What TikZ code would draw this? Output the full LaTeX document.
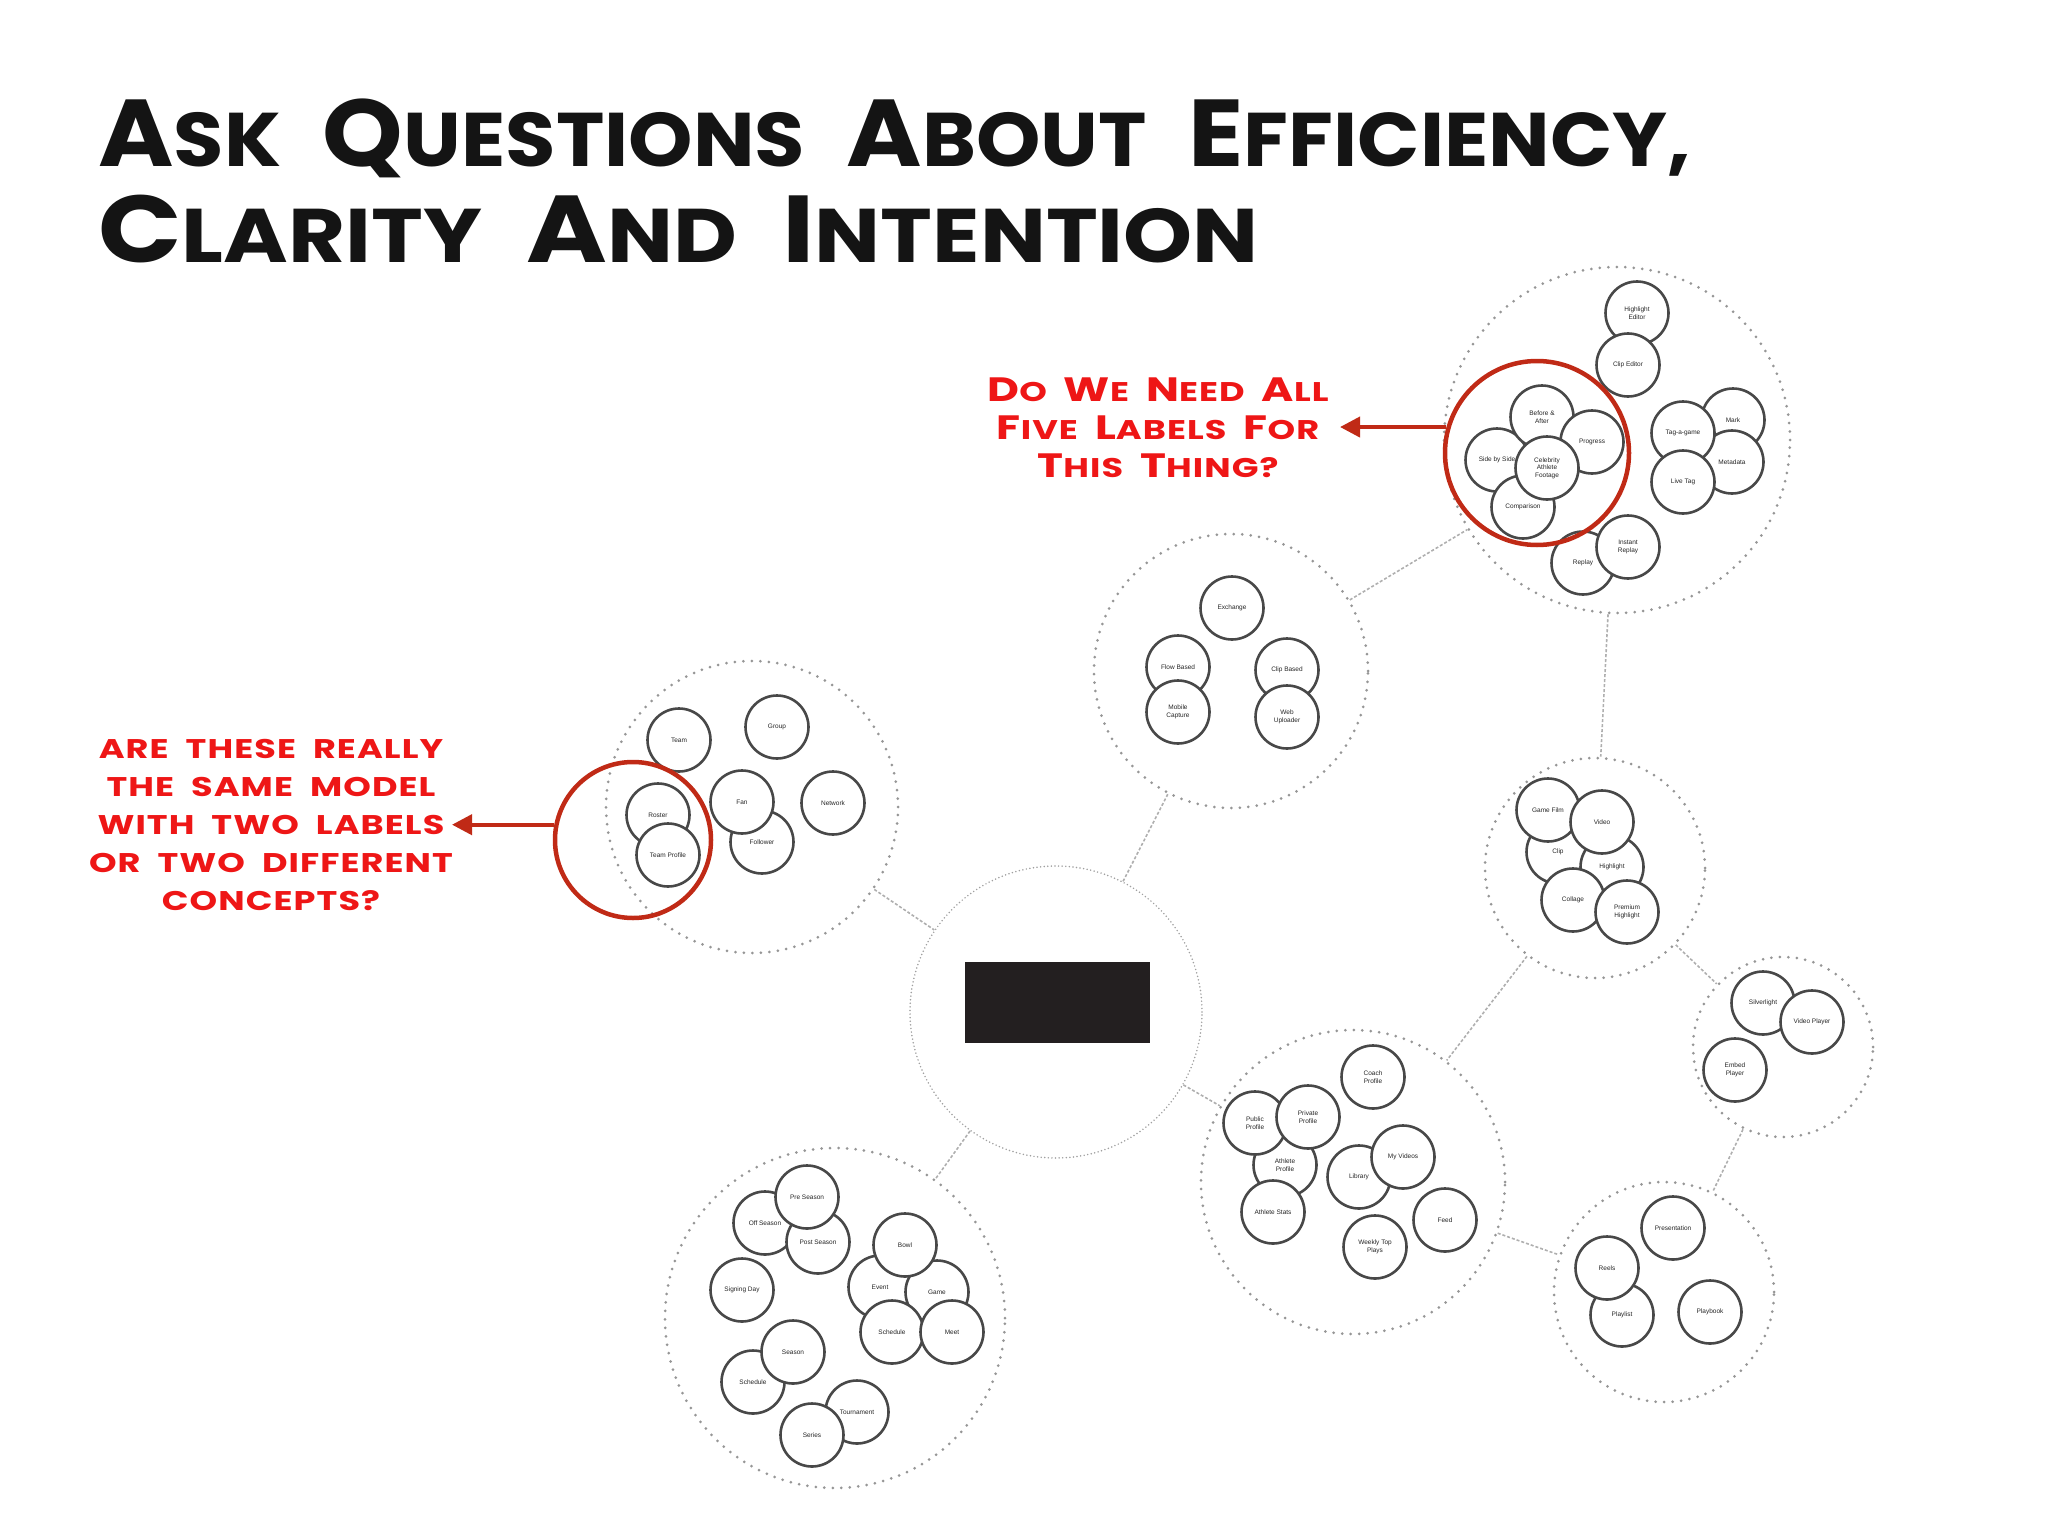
\documentclass[tikz,border=0pt]{standalone}
\usepackage{fontspec}
\setmainfont{Liberation Sans}
\newfontfamily\markerfont{Poppins}[FakeStretch=1.3,LetterSpace=4,WordSpace=2]
\newfontfamily\headfont{Poppins}[FakeStretch=1.1,WordSpace=2.4]
\usetikzlibrary{arrows.meta}

\definecolor{inkred}{RGB}{238,22,22}
\definecolor{ringred}{RGB}{192,42,22}
\definecolor{dotgray}{RGB}{150,150,150}
\definecolor{edgegray}{RGB}{175,175,175}
\definecolor{blobgray}{RGB}{72,72,72}
\definecolor{boxblack}{RGB}{35,31,32}

\newcommand\firstlet[1]{\scalebox{1.25}{#1}}

\begin{document}
\begin{tikzpicture}[x=1pt,y=-1pt,
  blob/.style={circle,draw=blobgray,line width=2.6pt,fill=white,minimum size=63pt,
    inner sep=0pt,align=center,font=\fontsize{6.5}{7.5}\selectfont,text=black!85},
  cluster/.style={circle,draw=dotgray,line width=3pt,line cap=round,
    dash pattern=on 0pt off 8.5pt,inner sep=0pt},
  hub/.style={circle,draw=dotgray!90,line width=1.7pt,line cap=round,
    dash pattern=on 0pt off 3.6pt,inner sep=0pt},
  link/.style={draw=edgegray,line width=1.6pt,dash pattern=on 3pt off 2pt},
  ring/.style={circle,draw=ringred,line width=4.5pt,inner sep=0pt},
  pointer/.style={draw=ringred,line width=4pt,-{Triangle[length=20pt,width=20pt]}},
  note/.style={text=inkred,align=center,inner sep=0pt,
    font=\markerfont\bfseries\fontsize{27}{38}\selectfont},
  headline/.style={text=black!92,inner sep=0pt,
    font=\headfont\bfseries\fontsize{76}{95}\selectfont}]
  \useasboundingbox (0,0) rectangle (2048,1536);

  % title
  \node[headline,anchor=base west] (head1) at (98,167)
    {\scalebox{0.98}[1]{\firstlet{A}SK \firstlet{Q}UESTIONS \firstlet{A}BOUT \firstlet{E}FFICIENCY,}};
  \node[headline,anchor=base west] (head2) at (98,262)
    {\scalebox{1.05}[1]{\firstlet{C}LARITY \firstlet{A}ND \firstlet{I}NTENTION}};

  % model groups
  \node[cluster,minimum size=346pt] (tr) at (1617,440)  {};
  \node[cluster,minimum size=274pt] (mt) at (1231,671)  {};
  \node[cluster,minimum size=292pt] (lt) at (752,807)   {};
  \node[hub,minimum size=292pt]     (ct) at (1056,1012) {};
  \node[cluster,minimum size=220pt] (rm) at (1595,868)  {};
  \node[cluster,minimum size=180pt] (fr) at (1783,1047) {};
  \node[cluster,minimum size=304pt] (bm) at (1353,1182) {};
  \node[cluster,minimum size=220pt] (br) at (1664,1292) {};
  \node[cluster,minimum size=340pt] (bl) at (835,1318)  {};
  \node[fill=boxblack,minimum width=185pt,minimum height=81pt,inner sep=0pt] (logo) at (1057,1002) {};

  \path[link] (lt) edge (ct)
              (ct) edge (mt)
              (mt) edge (tr)
              (tr) edge (rm)
              (rm) edge (bm)
              (rm) edge (fr)
              (fr) edge (br)
              (bm) edge (br)
              (ct) edge (bm)
              (ct) edge (bl);

  % top right
  \node[blob] (hied) at (1637,313) {Highlight\\Editor};
  \node[blob] (cled) at (1628,365) {Clip Editor};
  \node[blob] (mark) at (1733,420) {Mark};
  \node[blob] (meta) at (1732,462) {Metadata};
  \node[blob] (taga) at (1683,433) {Tag-a-game};
  \node[blob] (ltag) at (1683,482) {Live Tag};
  \node[blob] (repl) at (1583,563) {Replay};
  \node[blob] (inre) at (1628,547) {Instant\\Replay};
  \node[blob] (sbs)  at (1497,460) {Side by Side};
  \node[blob] (bna)  at (1542,417) {Before \&\\After};
  \node[blob] (prog) at (1592,442) {Progress};
  \node[blob] (comp) at (1523,507) {Comparison};
  \node[blob] (celb) at (1547,468) {Celebrity\\Athlete\\Footage};

  % middle top
  \node[blob] (exch) at (1232,608) {Exchange};
  \node[blob] (flow) at (1178,667) {Flow Based};
  \node[blob] (mobi) at (1178,712) {Mobile\\Capture};
  \node[blob] (clba) at (1287,670) {Clip Based};
  \node[blob] (webu) at (1287,717) {Web\\Uploader};

  % left
  \node[blob] (team) at (679,740) {Team};
  \node[blob] (grp)  at (777,727) {Group};
  \node[blob] (rost) at (658,815) {Roster};
  \node[blob] (tpro) at (668,855) {Team Profile};
  \node[blob] (foll) at (762,842) {Follower};
  \node[blob] (fan)  at (742,802) {Fan};
  \node[blob] (netw) at (833,803) {Network};

  % right middle
  \node[blob] (clip) at (1558,852) {Clip};
  \node[blob] (high) at (1612,867) {Highlight};
  \node[blob] (gfil) at (1548,810) {Game Film};
  \node[blob] (vid)  at (1602,822) {Video};
  \node[blob] (coll) at (1573,900) {Collage};
  \node[blob] (prem) at (1627,912) {Premium\\Highlight};

  % far right
  \node[blob] (silv) at (1763,1003) {Silverlight};
  \node[blob] (vpla) at (1812,1022) {Video Player};
  \node[blob] (embd) at (1735,1070) {Embed\\Player};

  % bottom middle
  \node[blob] (coac) at (1373,1077) {Coach\\Profile};
  \node[blob] (athp) at (1285,1165) {Athlete\\Profile};
  \node[blob] (pubp) at (1255,1123) {Public\\Profile};
  \node[blob] (prip) at (1308,1117) {Private\\Profile};
  \node[blob] (aths) at (1273,1212) {Athlete Stats};
  \node[blob] (libr) at (1359,1177) {Library};
  \node[blob] (myvi) at (1403,1157) {My Videos};
  \node[blob] (feed) at (1445,1220) {Feed};
  \node[blob] (wtop) at (1375,1247) {Weekly Top\\Plays};

  % bottom right
  \node[blob] (pres) at (1673,1228) {Presentation};
  \node[blob] (plis) at (1622,1315) {Playlist};
  \node[blob] (reel) at (1607,1268) {Reels};
  \node[blob] (pboo) at (1710,1312) {Playbook};

  % bottom left
  \node[blob] (offs) at (765,1223) {Off Season};
  \node[blob] (post) at (818,1242) {Post Season};
  \node[blob] (pres2) at (807,1197) {Pre Season};
  \node[blob] (sign) at (742,1290) {Signing Day};
  \node[blob] (evnt) at (880,1287) {Event};
  \node[blob] (game) at (937,1292) {Game};
  \node[blob] (bowl) at (905,1245) {Bowl};
  \node[blob] (sch1) at (892,1332) {Schedule};
  \node[blob] (meet) at (952,1332) {Meet};
  \node[blob] (sch2) at (753,1382) {Schedule};
  \node[blob] (seas) at (793,1352) {Season};
  \node[blob] (tour) at (857,1412) {Tournament};
  \node[blob] (seri) at (812,1435) {Series};

  % questions
  \node[ring,minimum size=184pt] (ringtr) at (1537,453) {};
  \node[ring,minimum size=156pt] (ringlt) at (633,840)  {};
  \coordinate (tiptr) at (1340,427);
  \coordinate (tiplt) at (452,826);
  \draw[pointer] (ringtr.164) -- (ringtr.164 -| tiptr);
  \draw[pointer] (ringlt.169) -- (ringlt.169 -| tiplt);

  \node[note] (asktr) at (1158,428)
    {\firstlet{D}O \firstlet{W}E \firstlet{N}EED \firstlet{A}LL\\
     \firstlet{F}IVE \firstlet{L}ABELS \firstlet{F}OR\\
     \firstlet{T}HIS \firstlet{T}HING?};
  \node[note] (asklt) at (271,825)
    {ARE THESE REALLY\\THE SAME MODEL\\WITH TWO LABELS\\OR TWO DIFFERENT\\CONCEPTS?};
\end{tikzpicture}
\end{document}
